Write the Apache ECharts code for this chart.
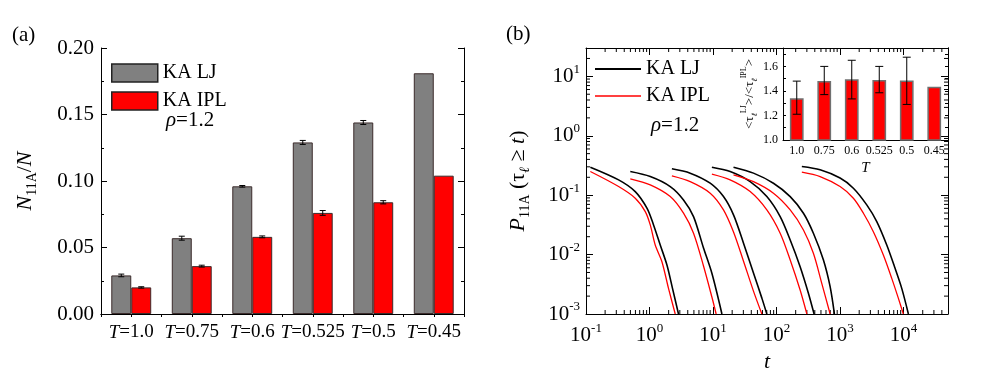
<!DOCTYPE html>
<html>
<head>
<meta charset="UTF-8">
<title>N11A fraction and 11A lifetimes, KA LJ vs KA IPL</title>
<script src="https://cdn.jsdelivr.net/npm/echarts@6/dist/echarts.min.js"></script>
<style>
  html, body { margin: 0; padding: 0; background: #fff; }
  #chart { width: 981px; height: 383px; }
</style>
</head>
<body>
<div id="chart"></div>
<script>
// ---- panel (a): fraction of particles in 11A clusters ----
const temps = ['1.0', '0.75', '0.6', '0.525', '0.5', '0.45'];
const ljFrac = [0.029, 0.057, 0.096, 0.129, 0.144, 0.181];
const ljFracErr = [0.001, 0.0015, 0.0006, 0.0015, 0.0015, 0];
const iplFrac = [0.020, 0.036, 0.058, 0.076, 0.084, 0.104];
const iplFracErr = [0.0005, 0.0007, 0.0007, 0.0018, 0.0012, 0];

// ---- inset: <tau LJ>/<tau IPL> ----
const ratio = [1.34, 1.48, 1.495, 1.49, 1.485, 1.435];
const ratioLo = [1.21, 1.37, 1.335, 1.385, 1.29, null];
const ratioHi = [1.48, 1.60, 1.65, 1.60, 1.675, null];

// ---- panel (b): P11A(tau >= t), [t, P], one curve per T (1.0 ... 0.45) ----
const ljCurves = [
  [[0.117,0.296],[0.326,0.181],[0.596,0.115],[0.911,0.0604],[1.157,0.0316],[1.475,0.0145],[1.88,0.00668],[2.30,0.0027],[2.86,0.001]],
  [[0.498,0.250],[1.027,0.206],[2.12,0.1396],[3.43,0.0833],[4.93,0.0436],[7.08,0.0129],[9.59,0.00484],[13.8,0.001]],
  [[2.25,0.278],[4.37,0.235],[9.02,0.159],[14.6,0.0947],[21.0,0.0466],[30.1,0.0157],[43.3,0.0049],[58.7,0.00185],[70.3,0.001]],
  [[9.59,0.296],[18.6,0.250],[38.4,0.169],[70.3,0.0947],[114,0.0436],[164,0.0176],[235,0.00625],[318,0.00222],[390,0.001]],
  [[21.0,0.296],[43.3,0.235],[89.3,0.159],[164,0.0947],[265,0.0497],[380,0.0229],[547,0.0081],[697,0.00288],[814,0.001]],
  [[250,0.303],[485,0.267],[1000,0.194],[1620,0.131],[2630,0.0686],[3780,0.0359],[5430,0.0145],[7340,0.00587],[9350,0.0027],[11900,0.001]]
];
const iplCurves = [
  [[0.117,0.250],[0.326,0.1396],[0.596,0.0889],[0.857,0.0529],[1.027,0.0316],[1.23,0.0145],[1.568,0.00759],[1.99,0.0027],[2.54,0.001]],
  [[0.498,0.188],[1.027,0.149],[2.12,0.0947],[3.43,0.0497],[4.93,0.0229],[7.08,0.00643],[9.59,0.00193],[11.2,0.001]],
  [[2.25,0.211],[4.37,0.169],[9.02,0.108],[14.6,0.0565],[21.0,0.024],[30.1,0.0078],[43.3,0.00243],[58.7,0.001]],
  [[9.59,0.226],[18.6,0.181],[38.4,0.115],[70.3,0.0565],[114,0.0229],[164,0.0081],[235,0.00253],[300,0.001]],
  [[21.0,0.22],[43.3,0.169],[89.3,0.108],[164,0.0565],[265,0.026],[380,0.0105],[515,0.00328],[697,0.001]],
  [[250,0.244],[485,0.206],[1000,0.1396],[1620,0.0889],[2330,0.0497],[3340,0.0243],[4800,0.00984],[6510,0.00398],[8260,0.00185],[9910,0.001]]
];

const SERIF = "'Liberation Serif', 'DejaVu Serif', serif";

// rich text styles: n normal, i italic, sub / sup small
function rich(size) {
  const small = Math.round(size * 0.62);
  const lh = size + 6;
  return {
    n: { fontFamily: SERIF, fontSize: size, color: '#000', lineHeight: lh },
    i: { fontFamily: SERIF, fontSize: size, fontStyle: 'italic', color: '#000', lineHeight: lh },
    sub: { fontFamily: SERIF, fontSize: small, color: '#000', lineHeight: small, verticalAlign: 'bottom' },
    subi: { fontFamily: SERIF, fontSize: small, fontStyle: 'italic', color: '#000', lineHeight: small, verticalAlign: 'bottom' },
    sup: { fontFamily: SERIF, fontSize: small, color: '#000', lineHeight: small, verticalAlign: 'top' }
  };
}

function powLabel(v) {
  const e = Math.log10(v);
  const r = Math.round(e);
  if (Math.abs(e - r) > 1e-6) return '';
  return '{n|10}{sup|' + r + '}';
}

const black = { color: '#000', width: 1 };

// minor log ticks (2..9 per decade) for panel (b)
const xMinorTicks = [], yMinorTicks = [];
for (let d = -1; d <= 4; d++) for (let m = 2; m <= 9; m++) {
  const v = m * Math.pow(10, d);
  if (v < 50000) xMinorTicks.push(v);
}
for (let d = -3; d <= 1; d++) for (let m = 2; m <= 9; m++) {
  const v = m * Math.pow(10, d);
  if (v < 30) yMinorTicks.push(v);
}

function errorSeries(xi, yi, lo, hi, shift, cap, z) {
  return {
    type: 'custom', xAxisIndex: xi, yAxisIndex: yi, silent: true, z: z || 4,
    data: lo.map((l, i) => [i, l, hi[i]]).filter(d => d[1] != null && d[2] > d[1]),
    renderItem(params, api) {
      const band = api.size([1, 0])[0];
      const pLo = api.coord([api.value(0), api.value(1)]);
      const pHi = api.coord([api.value(0), api.value(2)]);
      const x = pLo[0] + shift * band;
      const st = { stroke: '#000', lineWidth: 1 };
      return { type: 'group', children: [
        { type: 'line', shape: { x1: x, y1: pLo[1], x2: x, y2: pHi[1] }, style: st },
        { type: 'line', shape: { x1: x - cap, y1: pLo[1], x2: x + cap, y2: pLo[1] }, style: st },
        { type: 'line', shape: { x1: x - cap, y1: pHi[1], x2: x + cap, y2: pHi[1] }, style: st }
      ]};
    }
  };
}

const series = [
  { type: 'bar', name: 'KA LJ', xAxisIndex: 0, yAxisIndex: 0, data: ljFrac, silent: true,
    barGap: '0%', barCategoryGap: '34%',
    itemStyle: { color: '#808080', borderColor: '#3b2b2b', borderWidth: 1 } },
  { type: 'bar', name: 'KA IPL', xAxisIndex: 0, yAxisIndex: 0, data: iplFrac, silent: true,
    barGap: '0%', barCategoryGap: '34%',
    itemStyle: { color: '#ff0000', borderColor: '#3b2b2b', borderWidth: 1 } },
  errorSeries(0, 0, ljFrac.map((v, i) => v - ljFracErr[i]), ljFrac.map((v, i) => v + ljFracErr[i]), -0.165, 3),
  errorSeries(0, 0, iplFrac.map((v, i) => v - iplFracErr[i]), iplFrac.map((v, i) => v + iplFracErr[i]), 0.165, 3),
  { type: 'bar', name: 'ratio', xAxisIndex: 4, yAxisIndex: 4, data: ratio, silent: true, barWidth: '50%',
    itemStyle: { color: '#ff0000', borderColor: '#707070', borderWidth: 1.5 } },
  errorSeries(4, 4, ratioLo, ratioHi, 0, 4, 6)
];

ljCurves.forEach(c => series.push({
  type: 'line', name: 'KA LJ', xAxisIndex: 2, yAxisIndex: 2, data: c, showSymbol: false, silent: true,
  smooth: 0.3, lineStyle: { color: '#000', width: 1.6 }, z: 3
}));
iplCurves.forEach(c => series.push({
  type: 'line', name: 'KA IPL', xAxisIndex: 2, yAxisIndex: 2, data: c, showSymbol: false, silent: true,
  smooth: 0.3, lineStyle: { color: '#ff0000', width: 1.3 }, z: 3
}));

// minor ticks of the log axes
series.push({
  type: 'custom', xAxisIndex: 2, yAxisIndex: 2, silent: true, z: 3,
  data: xMinorTicks.map(v => [v, 1]),
  renderItem(params, api) {
    const cs = params.coordSys;
    const x = api.coord([api.value(0), 1])[0];
    const st = { stroke: '#000', lineWidth: 1 };
    return { type: 'group', children: [
      { type: 'line', shape: { x1: x, y1: cs.y + cs.height, x2: x, y2: cs.y + cs.height - 4 }, style: st },
      { type: 'line', shape: { x1: x, y1: cs.y, x2: x, y2: cs.y + 4 }, style: st }
    ]};
  }
});
series.push({
  type: 'custom', xAxisIndex: 2, yAxisIndex: 2, silent: true, z: 3,
  data: yMinorTicks.map(v => [1, v]),
  renderItem(params, api) {
    const cs = params.coordSys;
    const y = api.coord([1, api.value(1)])[1];
    const st = { stroke: '#000', lineWidth: 1 };
    return { type: 'group', children: [
      { type: 'line', shape: { x1: cs.x, y1: y, x2: cs.x + 4, y2: y }, style: st },
      { type: 'line', shape: { x1: cs.x + cs.width, y1: y, x2: cs.x + cs.width - 4, y2: y }, style: st }
    ]};
  }
});

const noLabel = { show: false };
const noSplit = { show: false };

// legend entry of panel (b): a plain line sample
function lineLegend(name, color, h, top) {
  return {
    orient: 'vertical', left: 595, top: top, padding: 0, itemWidth: 46, itemHeight: h,
    selectedMode: false,
    data: [{ name: name, icon: 'rect', itemStyle: { color: color, borderWidth: 0 } }],
    textStyle: { fontFamily: SERIF, fontSize: 20, color: '#000' }
  };
}

const option = {
  animation: false,
  backgroundColor: '#fff',
  textStyle: { fontFamily: SERIF, color: '#000' },
  grid: [
    { left: 101, top: 48, width: 363, height: 266, outerBoundsMode: 'none' },
    { left: 586, top: 48, width: 362, height: 266, outerBoundsMode: 'none' },
    { left: 783, top: 48, width: 165, height: 92, outerBoundsMode: 'none' }
  ],
  xAxis: [
    { type: 'category', gridIndex: 0, position: 'bottom', data: temps,
      axisLine: { lineStyle: black }, axisTick: { inside: true, length: 4, lineStyle: black },
      axisLabel: { interval: 0, margin: 6, formatter: v => '{i|T}{n|=' + v + '}', rich: rich(19) },
      splitLine: noSplit },
    { type: 'value', gridIndex: 0, position: 'top', min: 0, max: 12, interval: 1,
      axisLine: { lineStyle: black }, axisTick: { inside: true, length: 3, lineStyle: black },
      axisLabel: noLabel, splitLine: noSplit },
    { type: 'log', logBase: 10, gridIndex: 1, position: 'bottom', min: 0.1, max: 50000,
      axisLine: { lineStyle: black }, axisTick: { inside: true, length: 7, lineStyle: black },
      axisLabel: { margin: 8, formatter: powLabel, rich: rich(21) },
      splitLine: noSplit,
      name: '{i|t}', nameLocation: 'middle', nameGap: 30, nameTextStyle: { rich: rich(22) } },
    { type: 'log', logBase: 10, gridIndex: 1, position: 'top', min: 0.1, max: 50000,
      axisLine: { lineStyle: black }, axisTick: { inside: true, length: 7, lineStyle: black },
      axisLabel: noLabel, splitLine: noSplit },
    { type: 'category', gridIndex: 2, position: 'bottom', data: temps,
      axisLine: { lineStyle: black }, axisTick: { inside: true, length: 3, lineStyle: black },
      axisLabel: { interval: 0, margin: 5, fontSize: 12, fontFamily: SERIF, color: '#000' },
      splitLine: noSplit,
      name: '{i|T}', nameLocation: 'middle', nameGap: 18, nameTextStyle: { rich: rich(15) } },
    { type: 'category', gridIndex: 2, position: 'top', data: temps,
      axisLine: { lineStyle: black }, axisTick: { inside: true, length: 3, lineStyle: black },
      axisLabel: noLabel, splitLine: noSplit }
  ],
  yAxis: [
    { type: 'value', gridIndex: 0, position: 'left', min: 0, max: 0.2, interval: 0.05,
      axisLine: { show: true, lineStyle: black }, axisTick: { show: true, inside: true, length: 6, lineStyle: black },
      minorTick: { show: true, splitNumber: 2, length: 3, lineStyle: black },
      axisLabel: { margin: 7, fontSize: 21, fontFamily: SERIF, color: '#000', formatter: v => v.toFixed(2) },
      splitLine: noSplit,
      name: '{i|N}{sub|11A}{n|/}{i|N}', nameLocation: 'middle', nameGap: 62, nameTextStyle: { rich: rich(22) } },
    { type: 'value', gridIndex: 0, position: 'right', min: 0, max: 0.2, interval: 0.05,
      axisLine: { show: true, lineStyle: black }, axisTick: { show: true, inside: true, length: 6, lineStyle: black },
      minorTick: { show: true, splitNumber: 2, length: 3, lineStyle: black },
      axisLabel: noLabel, splitLine: noSplit },
    { type: 'log', logBase: 10, gridIndex: 1, position: 'left', min: 0.001, max: 30,
      axisLine: { show: true, lineStyle: black }, axisTick: { show: true, inside: true, length: 7, lineStyle: black },
      axisLabel: { margin: 6, formatter: powLabel, rich: rich(21) },
      splitLine: noSplit,
      name: '{i|P}{sub|11A}{n| (τ}{subi|ℓ}{n| ≥ }{i|t}{n|)}', nameLocation: 'middle', nameGap: 54,
      nameTextStyle: { rich: rich(22) } },
    { type: 'log', logBase: 10, gridIndex: 1, position: 'right', min: 0.001, max: 30,
      axisLine: { show: true, lineStyle: black }, axisTick: { show: true, inside: true, length: 7, lineStyle: black },
      axisLabel: noLabel, splitLine: noSplit },
    { type: 'value', gridIndex: 2, position: 'left', min: 1.0, max: 1.75, interval: 0.1,
      axisLine: { show: true, lineStyle: black }, axisTick: { show: true, inside: true, length: 3, lineStyle: black },
      axisLabel: { margin: 5, fontSize: 12, fontFamily: SERIF, color: '#000',
        formatter: v => (Math.round(v * 10) % 2 === 0 && v < 1.7) ? v.toFixed(1) : '' },
      splitLine: noSplit,
      name: '{n|<τ}{subi|ℓ}{sup|LJ}{n|>/<τ}{subi|ℓ}{sup|IPL}{n|>}', nameLocation: 'middle', nameGap: 22,
      nameTextStyle: { rich: rich(13) } },
    { type: 'value', gridIndex: 2, position: 'right', min: 1.0, max: 1.75, interval: 0.1,
      axisLine: { show: true, lineStyle: black }, axisTick: { show: true, inside: true, length: 3, lineStyle: black },
      axisLabel: noLabel, splitLine: noSplit }
  ],
  legend: [
    { orient: 'vertical', left: 111, top: 63, padding: 0, itemWidth: 46, itemHeight: 18, itemGap: 8,
      selectedMode: false, icon: 'rect',
      data: ['KA LJ', 'KA IPL'],
      itemStyle: { borderColor: '#222', borderWidth: 1.5 },
      textStyle: { fontFamily: SERIF, fontSize: 20, color: '#000', lineHeight: 18 } },
    lineLegend('KA LJ', '#000', 2, 59),
    lineLegend('KA IPL', '#ff0000', 1.5, 86)
  ],
  graphic: [
    { type: 'text', left: 12, top: 25, style: { text: '{n|(a)}', rich: rich(21) } },
    { type: 'text', left: 506, top: 24, style: { text: '{n|(b)}', rich: rich(21) } },
    { type: 'text', left: 166, top: 110, style: { text: '{i|ρ}{n|=1.2}', rich: rich(21) } },
    { type: 'text', left: 651, top: 115, style: { text: '{i|ρ}{n|=1.2}', rich: rich(21) } }
  ],
  series: series
};

const chart = echarts.init(document.getElementById('chart'));
chart.setOption(option);
</script>
</body>
</html>
